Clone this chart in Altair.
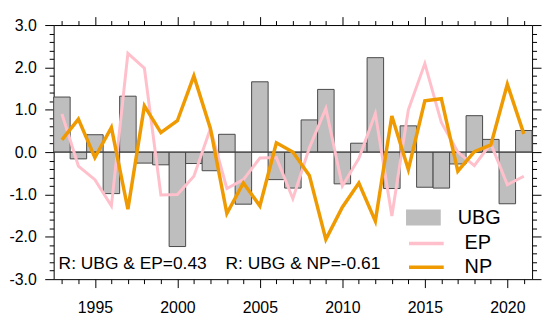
import altair as alt
import pandas as pd

# ---- data ----
years = list(range(1993, 2022))
ubg = [1.30, -0.16, 0.41, -0.98, 1.32, -0.26, -0.30, -2.23, -0.27, -0.44,
       0.42, -1.23, 1.66, -0.65, -0.85, 0.76, 1.48, -0.75, 0.21, 2.23,
       -0.86, 0.62, -0.83, -0.85, -0.28, 0.86, 0.30, -1.22, 0.51]
ep = [0.90, -0.33, -0.65, -1.27, 2.33, 1.98, -1.01, -1.00, -0.57, 0.55,
      -0.86, -0.65, -0.14, -0.13, -1.10, 0.10, 1.03, -0.80, -0.15, 0.91,
      -1.51, 1.00, 2.09, 0.70, 0.00, -0.32, 0.20, -0.77, -0.57]
np_vals = [0.29, 0.78, -0.13, 0.58, -1.35, 1.09, 0.46, 0.74, 1.80, 0.56,
           -1.45, -0.73, -1.27, 0.22, 0.00, -0.55, -2.06, -1.30, -0.73, -1.63,
           0.85, -0.41, 1.21, 1.26, -0.45, 0.01, 0.17, 1.60, 0.43]
bar_series = ["UBG"]
line_series = ["EP", "NP"]
corr_labels = ["R: UBG & EP=0.43", "R: UBG & NP=-0.61"]

bars_df = pd.DataFrame({"year": years, "value": ubg, "series": bar_series[0]})
lines_df = pd.concat([
    pd.DataFrame({"year": years, "value": ep, "series": line_series[0]}),
    pd.DataFrame({"year": years, "value": np_vals, "series": line_series[1]}),
], ignore_index=True)
one_row = pd.DataFrame({"k": [0]})

FONT = "Liberation Sans"
PINK = "#ffc0cb"
ORANGE = "#ee9a00"
BAR_FILL = "#bebebe"

xscale = alt.Scale(domain=[1992.5, 2021.5], nice=False, zero=False)
yscale = alt.Scale(domain=[-3, 3], nice=False, zero=False)

x_major = "datum.value % 5 === 0"
y_major = "abs(datum.value - round(datum.value)) < 0.000001"
y_ticks = [round(-3 + 0.2 * i, 1) for i in range(31)]


def common_axis(**kw):
    return alt.Axis(
        grid=False, title=None, domainColor="black", domainWidth=1,
        tickColor="black", tickWidth=1, labelFont=FONT, labelFontSize=16,
        labelColor="black", labelFlush=False, labelOverlap=False,
        labelBound=False, **kw)


x_bottom = common_axis(
    orient="bottom", values=years, labelPadding=12,
    labelExpr="datum.value % 5 === 0 ? datum.label : ''", format="d",
    tickSize={"condition": {"test": x_major, "value": 8.5}, "value": 4.5})
x_top = common_axis(
    orient="top", values=years, labels=False,
    tickSize={"condition": {"test": x_major, "value": 8.5}, "value": 4.5})
y_left = common_axis(
    orient="left", values=y_ticks, labelPadding=8.5,
    labelExpr=("abs(datum.value - round(datum.value)) < 0.000001 ? "
               "((datum.value < 0 ? '-' : '') + format(abs(datum.value), '.1f')) : ''"),
    tickSize={"condition": {"test": y_major, "value": 9}, "value": 4.5})
y_right = common_axis(
    orient="right", values=y_ticks, labels=False,
    tickSize={"condition": {"test": y_major, "value": 9}, "value": 4.5})

bars = alt.Chart(bars_df).transform_calculate(
    x0="datum.year - 0.5", x1="datum.year + 0.5"
).mark_bar(stroke="#4a4a4a", strokeWidth=1).encode(
    x=alt.X("x0:Q", scale=xscale, axis=x_bottom),
    x2="x1:Q",
    y=alt.Y("value:Q", scale=yscale, axis=y_left),
    y2=alt.Y2Datum(0),
    fill=alt.Fill("series:N", scale=alt.Scale(domain=bar_series, range=[BAR_FILL]),
                  legend=alt.Legend(
                      orient="none", legendX=355, legendY=182, title=None,
                      labelFont=FONT, labelFontSize=20, labelColor="black",
                      labelOffset=17, symbolType="M-1,-0.46H1V0.46H-1Z",
                      symbolSize=1225, symbolStrokeWidth=0, symbolOpacity=1,
                      clipHeight=24, rowPadding=0, padding=0)),
)

zero_line = alt.Chart(one_row).mark_rule(color="#404040", strokeWidth=1).encode(
    y=alt.YDatum(0, scale=yscale, axis=None)
)

stroke_legend = alt.Legend(
    orient="none", legendX=356, legendY=208, title=None,
    labelFont=FONT, labelFontSize=20, labelColor="black", labelOffset=19,
    symbolType="stroke", symbolSize=1225, symbolStrokeWidth=3.5,
    clipHeight=24, rowPadding=0, padding=0)
stroke_enc = alt.Stroke("series:N",
                        scale=alt.Scale(domain=line_series, range=[PINK, ORANGE]),
                        legend=stroke_legend)

ep_line = alt.Chart(lines_df).transform_filter(
    alt.datum.series == line_series[0]
).mark_line(strokeWidth=3).encode(
    x=alt.X("year:Q", scale=xscale, axis=x_top),
    y=alt.Y("value:Q", scale=yscale, axis=y_right),
    stroke=stroke_enc,
)

np_line = alt.Chart(lines_df).transform_filter(
    alt.datum.series == line_series[1]
).mark_line(strokeWidth=3.5).encode(
    x=alt.X("year:Q", scale=xscale, axis=None),
    y=alt.Y("value:Q", scale=yscale, axis=None),
    stroke=stroke_enc,
)

txt1 = alt.Chart(one_row).mark_text(
    text=corr_labels[0], align="left", baseline="alphabetic",
    font=FONT, fontSize=17.5, fontWeight="normal", color="black"
).encode(
    x=alt.XDatum(1992.8, scale=xscale, axis=None),
    y=alt.YDatum(-2.76, scale=yscale, axis=None),
)
txt2 = alt.Chart(one_row).mark_text(
    text=corr_labels[1], align="left", baseline="alphabetic",
    font=FONT, fontSize=17.5, fontWeight="normal", color="black"
).encode(
    x=alt.XDatum(2002.92, scale=xscale, axis=None),
    y=alt.YDatum(-2.76, scale=yscale, axis=None),
)

chart = alt.layer(bars, zero_line, ep_line, np_line, txt1, txt2).resolve_axis(
    x="independent", y="independent"
).properties(
    width=482, height=256,
    padding={"left": 0, "top": 7, "right": 0, "bottom": 5},
).configure_view(stroke=None)

chart.save("out.html", embed_options={"renderer": "svg", "actions": False})
